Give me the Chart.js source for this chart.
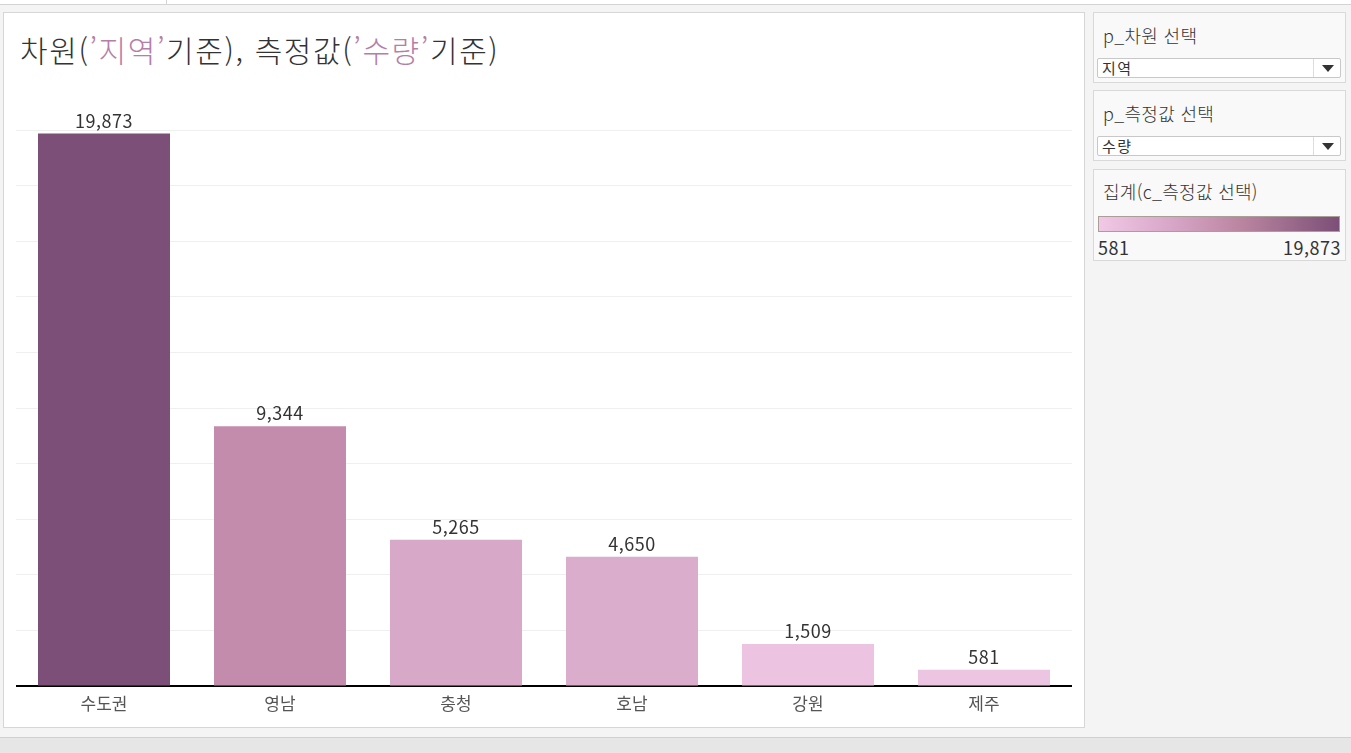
<!DOCTYPE html>
<html lang="ko">
<head>
<meta charset="utf-8">
<script src="https://cdn.jsdelivr.net/npm/chart.js@4"></script>
<style>
  html, body { margin: 0; padding: 0; }
  body {
    width: 1351px; height: 753px; position: relative; overflow: hidden;
    background: #f4f4f4;
    font-family: 'Noto Sans CJK KR', 'Noto Sans', sans-serif;
    color: #333;
  }
  .topbar { position: absolute; left: 0; top: 0; width: 1351px; height: 4px; background: #fff; border-bottom: 1px solid #d4d4d4; }
  .topbar .sep { position: absolute; left: 166px; top: 0; width: 1px; height: 4px; background: #d4d4d4; }
  .main { position: absolute; left: 3px; top: 12px; width: 1080px; height: 714px; background: #fff; border: 1px solid #d6d6d6; }
  .title { position: absolute; left: 16px; top: 14px; font-size: 30px; letter-spacing: 1.6px; font-weight: 300; white-space: nowrap; color: #333; }
  .title .hl { color: #b57ea8; }
  #chart { position: absolute; left: 16px; top: 100px; }
  .panel { position: absolute; left: 1093px; width: 251px; background: #f9f9f9; border: 1px solid #d9d9d9; }
  .panel .ptitle { position: absolute; left: 9px; font-size: 18px; letter-spacing: 0.3px; font-weight: 300; color: #333; white-space: nowrap; }
  .dd { position: absolute; left: 3px; width: 242px; height: 18px; background: #fff; border: 1px solid #c8c8c8; border-radius: 2px; font-size: 15px; letter-spacing: 1.5px; line-height: 18px; }
  .dd span { position: absolute; left: 4px; top: 0; }
  .dd .arr { position: absolute; right: 0; top: 0; width: 26px; height: 18px; border-left: 1px solid #ddd; }
  .dd .arr::after { content: ''; position: absolute; left: 8px; top: 6px; border-left: 6px solid transparent; border-right: 6px solid transparent; border-top: 7px solid #333; }
  .grad { position: absolute; left: 4px; top: 46px; width: 240px; height: 14px; border: 1px solid #a8a098; background: linear-gradient(to right, #f1c8e6, #d8a6c8 30%, #b9849f 60%, #7c4f78); }
  .glabel { position: absolute; top: 64px; font-size: 18px; letter-spacing: 0.5px; color: #333; }
  .bottombar { position: absolute; left: 0; top: 737px; width: 1351px; height: 16px; background: #e6e6e6; border-top: 1px solid #d0d0d0; }
</style>
</head>
<body>
<div class="topbar"><div class="sep"></div></div>

<div class="main">
  <div class="title">차원(<span class="hl">’지역’</span>기준), 측정값(<span class="hl">’수량’</span>기준)</div>
</div>
<canvas id="chart" width="1056" height="630"></canvas>

<div class="panel" style="top:12px;height:69px;">
  <div class="ptitle" style="top:9px;">p_차원 선택</div>
  <div class="dd" style="top:45px;"><span>지역</span><div class="arr"></div></div>
</div>
<div class="panel" style="top:90px;height:69px;">
  <div class="ptitle" style="top:9px;">p_측정값 선택</div>
  <div class="dd" style="top:45px;"><span>수량</span><div class="arr"></div></div>
</div>
<div class="panel" style="top:169px;height:90px;">
  <div class="ptitle" style="top:8px;">집계(c_측정값 선택)</div>
  <div class="grad"></div>
  <div class="glabel" style="left:4px;">581</div>
  <div class="glabel" style="right:4px;">19,873</div>
</div>

<div class="bottombar"></div>

<script>
  const regions   = ['수도권', '영남', '충청', '호남', '강원', '제주'];
  const quantity  = [19873, 9344, 5265, 4650, 1509, 581];
  const barColors = ['#7c4f78', '#c38cad', '#d8a8c8', '#dbadcc', '#ecc3e0', '#ecc5e2'];

  const valueLabels = {
    id: 'valueLabels',
    afterDatasetsDraw(chart) {
      const { ctx } = chart;
      const meta = chart.getDatasetMeta(0);
      ctx.save();
      ctx.font = "18px 'Noto Sans CJK KR', 'Noto Sans', sans-serif";
      ctx.letterSpacing = '0.5px';
      ctx.fillStyle = '#333';
      ctx.textAlign = 'center';
      ctx.textBaseline = 'alphabetic';
      meta.data.forEach((bar, i) => {
        ctx.fillText(quantity[i].toLocaleString('en-US'), bar.x, bar.y - 6);
      });
      ctx.restore();
    },
  };

  new Chart(document.getElementById('chart'), {
    type: 'bar',
    data: {
      labels: regions,
      datasets: [{
        data: quantity,
        backgroundColor: barColors,
        borderWidth: 0,
        categoryPercentage: 1,
        barPercentage: 0.75,
      }],
    },
    plugins: [valueLabels],
    options: {
      responsive: false,
      animation: false,
      layout: { padding: { top: 30, left: 0, right: 0, bottom: 0 } },
      plugins: { legend: { display: false }, tooltip: { enabled: false } },
      scales: {
        x: {
          grid: { display: false, drawTicks: false },
          border: { color: '#000', width: 2 },
          ticks: {
            color: '#555',
            padding: 7,
            font: { size: 17, family: "'Noto Sans CJK KR', 'Noto Sans', sans-serif" },
          },
          afterFit(scale) { scale.height = 44; },
        },
        y: {
          min: 0,
          max: 20000,
          ticks: { display: false, stepSize: 2000 },
          grid: { color: '#efefef', drawTicks: false },
          border: { display: false },
          afterFit(scale) { scale.width = 0; },
        },
      },
    },
  });
</script>
</body>
</html>
